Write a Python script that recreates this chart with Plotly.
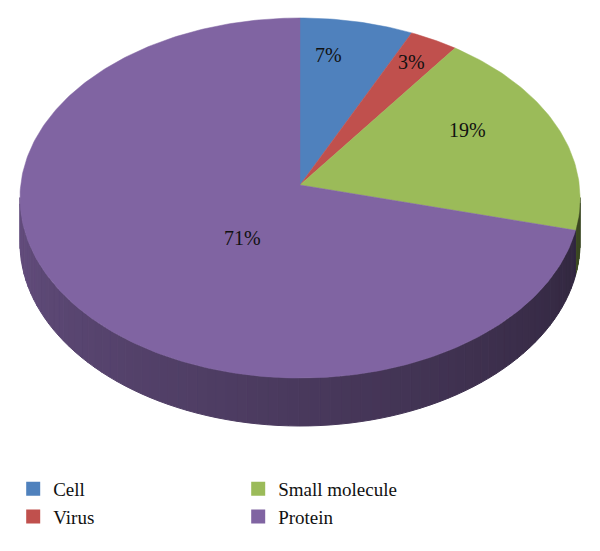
import numpy as np
import plotly.graph_objects as go

# ---- data ----
labels = ["Cell", "Virus", "Small molecule", "Protein"]
values = [7, 3, 19, 71]
colors = ["#4F81BD", "#C0504D", "#9BBB59", "#8064A2"]
legend_rank = [1, 3, 2, 4]  # column-major legend order

# ---- 3D pie geometry (pixel space) ----
W, H = 600, 551
CX, CY = 300.0, 185.0   # projected pie centre
A, B = 179.1, 279.3     # vertical / horizontal radius scale
K = 0.0722              # perspective factor
DEPTH = 44.5            # thickness
LABEL_POS = [(328, 55), (411, 62), (467, 130), (242, 238)]
FONT = "Liberation Serif"


def proj(theta_deg, r=1.0, bottom=False):
    t = np.radians(theta_deg)
    X = r * np.sin(t)
    Y = r * np.cos(t)
    w = 1 + K * Y
    x = CX + B * X / w
    y = CY - A * Y / w
    if bottom:
        y = y + DEPTH / w
    return x, y


def hex2rgb(h):
    h = h.lstrip("#")
    return tuple(int(h[i:i + 2], 16) for i in (0, 2, 4))


def shade(hexcol, theta):
    # lighter on the left, darker on the right
    f = 0.37 + (theta - 94.0) / 172.0 * 0.41
    r, g, b = hex2rgb(hexcol)
    return f"rgb({int(r * f)},{int(g * f)},{int(b * f)})"


total = float(sum(values))
bounds = [0.0]
for v in values:
    bounds.append(bounds[-1] + v / total * 360.0)

fig = go.Figure()

# ---- sides (visible front rim, from right extreme to left extreme) ----
VIS_START, VIS_END = 94.0, 266.0
step = 2.0
for i in range(len(values)):
    s0 = max(bounds[i], VIS_START)
    s1 = min(bounds[i + 1], VIS_END)
    if s1 <= s0:
        continue
    n = max(1, int(np.ceil((s1 - s0) / step)))
    edges = np.linspace(s0, s1, n + 1)
    for j in range(n):
        t0, t1 = edges[j], edges[j + 1]
        ts = np.linspace(t0, t1, 4)
        xt, yt = proj(ts)
        xb, yb = proj(ts[::-1], bottom=True)
        xs = np.concatenate([xt, xb, xt[:1]])
        ys = np.concatenate([yt, yb, yt[:1]])
        c = shade(colors[i], 0.5 * (t0 + t1))
        fig.add_trace(go.Scatter(
            x=xs, y=ys, mode="lines", fill="toself", fillcolor=c,
            line=dict(color=c, width=1), hoverinfo="skip", showlegend=False))

# ---- top faces ----
for i in range(len(values)):
    ts = np.linspace(bounds[i], bounds[i + 1], max(3, int(values[i] * 4)))
    xa, ya = proj(ts)
    xs = np.concatenate([[CX], xa, [CX]])
    ys = np.concatenate([[CY], ya, [CY]])
    fig.add_trace(go.Scatter(
        x=xs, y=ys, mode="lines", fill="toself", fillcolor=colors[i],
        line=dict(color=colors[i], width=0.5), hoverinfo="skip",
        showlegend=False, name=labels[i]))

# ---- legend entries ----
for i in range(len(values)):
    fig.add_trace(go.Scatter(
        x=[None], y=[None], mode="markers", name=labels[i],
        marker=dict(symbol="square", size=14, color=colors[i]),
        legendrank=legend_rank[i], showlegend=True))

# ---- percentage labels ----
for i in range(len(values)):
    fig.add_annotation(
        x=LABEL_POS[i][0], y=LABEL_POS[i][1], text=f"{values[i]}%",
        showarrow=False, font=dict(family=FONT, size=20, color="#111111"),
        xanchor="center", yanchor="middle")

fig.update_layout(
    width=W, height=H,
    margin=dict(l=0, r=0, t=0, b=0),
    paper_bgcolor="white", plot_bgcolor="white",
    font=dict(family=FONT),
    xaxis=dict(range=[0, W], visible=False, fixedrange=True),
    yaxis=dict(range=[H, 0], visible=False, fixedrange=True),
    showlegend=True,
    legend=dict(
        orientation="h", x=0.022, xanchor="left", y=0.147, yanchor="top",
        entrywidth=180, entrywidthmode="pixels", traceorder="normal",
        font=dict(family=FONT, size=19, color="#111111"),
        bgcolor="rgba(0,0,0,0)", itemclick=False, itemdoubleclick=False,
        tracegroupgap=0,
    ),
)

fig.write_html("out.html", config={"displayModeBar": False},
               post_script="document.body.style.margin='0';")
